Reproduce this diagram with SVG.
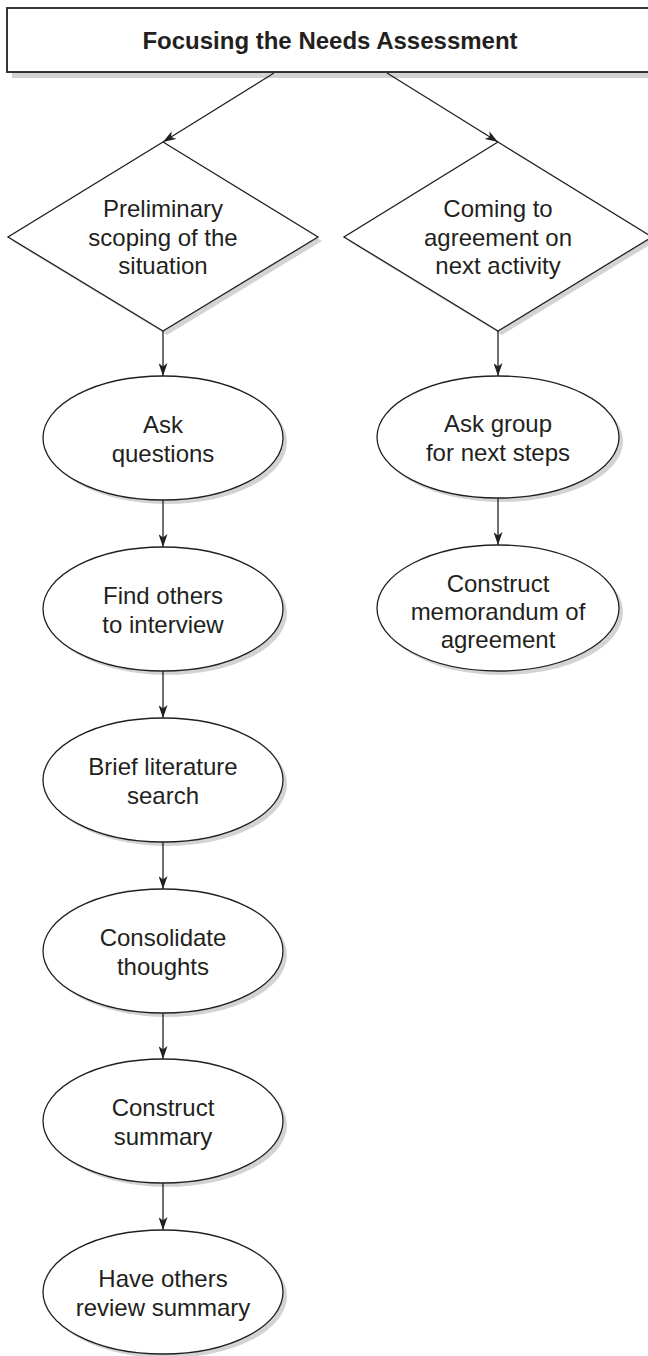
<svg xmlns="http://www.w3.org/2000/svg" width="648" height="1356" viewBox="0 0 648 1356">
  <style>
    .shape { fill: #ffffff; stroke: #231f20; stroke-width: 1.3; }
    .shadow { fill: #d2d3d5; stroke: none; }
    .label { font-family: "Liberation Sans", Arial, sans-serif; font-size: 24px; fill: #231f20; text-anchor: middle; }
    .title { font-family: "Liberation Sans", Arial, sans-serif; font-size: 24px; font-weight: bold; fill: #231f20; text-anchor: middle; }
    .edge { fill: none; stroke: #231f20; stroke-width: 1.3; }
  </style>
  <defs>
    <marker id="arrow" viewBox="0 0 13 9" refX="13" refY="4.5" markerWidth="13" markerHeight="9" markerUnits="userSpaceOnUse" orient="auto">
      <path d="M0,0 L13,4.5 L0,9 L3.5,4.5 Z" fill="#231f20"/>
    </marker>
  </defs>
  <rect width="648" height="1356" fill="#ffffff"/>

  <!-- Title bar -->
  <g id="title">
    <rect class="shadow" x="12" y="13" width="660" height="65"/>
    <rect x="7" y="8" width="660" height="64" fill="#ffffff" stroke="#231f20" stroke-width="1.8"/>
    <text class="title" x="330" y="49">Focusing the Needs Assessment</text>
  </g>

  <!-- Decision: preliminary scoping -->
  <g id="scoping">
    <polygon class="shadow" points="167,146 322,241 167,335 12,241"/>
    <polygon class="shape" points="163,142 318,237 163,331 8,237"/>
    <text class="label" x="163" y="216.5">Preliminary</text>
    <text class="label" x="163" y="245.5">scoping of the</text>
    <text class="label" x="163" y="273.5">situation</text>
  </g>

  <!-- Decision: agreement on next activity -->
  <g id="agreement">
    <polygon class="shadow" points="502,146 656,241 502,335 348,241"/>
    <polygon class="shape" points="498,142 652,237 498,331 344,237"/>
    <text class="label" x="498" y="216.5">Coming to</text>
    <text class="label" x="498" y="245.5">agreement on</text>
    <text class="label" x="498" y="273.5">next activity</text>
  </g>

  <!-- Left column steps -->
  <g id="ask-questions">
    <ellipse class="shadow" cx="167" cy="442" rx="120" ry="62"/>
    <ellipse class="shape" cx="163" cy="438" rx="120" ry="62"/>
    <text class="label" x="163" y="432.5">Ask</text>
    <text class="label" x="163" y="461.5">questions</text>
  </g>
  <g id="find-others">
    <ellipse class="shadow" cx="167" cy="613" rx="120" ry="62"/>
    <ellipse class="shape" cx="163" cy="609" rx="120" ry="62"/>
    <text class="label" x="163" y="603.5">Find others</text>
    <text class="label" x="163" y="632.5">to interview</text>
  </g>
  <g id="literature">
    <ellipse class="shadow" cx="167" cy="784" rx="120" ry="62"/>
    <ellipse class="shape" cx="163" cy="780" rx="120" ry="62"/>
    <text class="label" x="163" y="774.5">Brief literature</text>
    <text class="label" x="163" y="803.5">search</text>
  </g>
  <g id="consolidate">
    <ellipse class="shadow" cx="167" cy="955" rx="120" ry="62"/>
    <ellipse class="shape" cx="163" cy="951" rx="120" ry="62"/>
    <text class="label" x="163" y="945.5">Consolidate</text>
    <text class="label" x="163" y="974.5">thoughts</text>
  </g>
  <g id="summary">
    <ellipse class="shadow" cx="167" cy="1125" rx="120" ry="62"/>
    <ellipse class="shape" cx="163" cy="1121" rx="120" ry="62"/>
    <text class="label" x="163" y="1115.5">Construct</text>
    <text class="label" x="163" y="1144.5">summary</text>
  </g>
  <g id="review">
    <ellipse class="shadow" cx="167" cy="1296" rx="120" ry="62"/>
    <ellipse class="shape" cx="163" cy="1292" rx="120" ry="62"/>
    <text class="label" x="163" y="1286.5">Have others</text>
    <text class="label" x="163" y="1315.5">review summary</text>
  </g>

  <!-- Right column steps -->
  <g id="ask-group">
    <ellipse class="shadow" cx="502" cy="441" rx="121" ry="61"/>
    <ellipse class="shape" cx="498" cy="437" rx="121" ry="61"/>
    <text class="label" x="498" y="431.5">Ask group</text>
    <text class="label" x="498" y="460.5">for next steps</text>
  </g>
  <g id="memorandum">
    <ellipse class="shadow" cx="502" cy="612" rx="121" ry="63"/>
    <ellipse class="shape" cx="498" cy="608" rx="121" ry="63"/>
    <text class="label" x="498" y="591.5">Construct</text>
    <text class="label" x="498" y="619.5">memorandum of</text>
    <text class="label" x="498" y="647.5">agreement</text>
  </g>

  <!-- Connectors -->
  <g id="connectors">
    <line class="edge" x1="274" y1="73" x2="163" y2="142" marker-end="url(#arrow)"/>
    <line class="edge" x1="387" y1="73" x2="498" y2="142" marker-end="url(#arrow)"/>
    <line class="edge" x1="163" y1="331" x2="163" y2="376" marker-end="url(#arrow)"/>
    <line class="edge" x1="498" y1="331" x2="498" y2="376" marker-end="url(#arrow)"/>
    <line class="edge" x1="498" y1="498" x2="498" y2="545" marker-end="url(#arrow)"/>
    <line class="edge" x1="163" y1="500" x2="163" y2="547" marker-end="url(#arrow)"/>
    <line class="edge" x1="163" y1="671" x2="163" y2="718" marker-end="url(#arrow)"/>
    <line class="edge" x1="163" y1="842" x2="163" y2="889" marker-end="url(#arrow)"/>
    <line class="edge" x1="163" y1="1013" x2="163" y2="1059" marker-end="url(#arrow)"/>
    <line class="edge" x1="163" y1="1183" x2="163" y2="1230" marker-end="url(#arrow)"/>
  </g>
</svg>
